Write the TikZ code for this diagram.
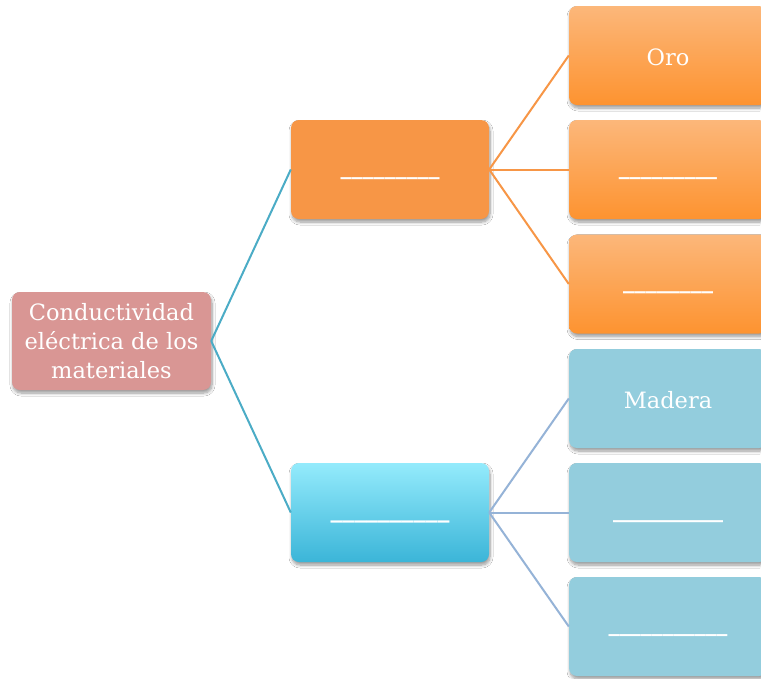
\documentclass[tikz,border=0pt]{standalone}
\usepackage{fontspec}
\setmainfont{DejaVu Serif}
\usetikzlibrary{shadows.blur}
\definecolor{rootc}{HTML}{D99694}
\definecolor{orgmid}{HTML}{F79646}
\definecolor{orgtop}{HTML}{FCB77A}
\definecolor{orgbot}{HTML}{FD9330}
\definecolor{blutop}{HTML}{94EBFC}
\definecolor{blubot}{HTML}{3BB5D8}
\definecolor{bluright}{HTML}{93CDDD}
\definecolor{lineroot}{HTML}{4BACC6}
\definecolor{lineblue}{HTML}{95B3D7}
\tikzset{
  box/.style={rectangle, rounded corners=8pt, minimum width=198pt, minimum height=99pt,
    inner sep=0pt, text=white, font=\fontsize{22.5}{29}\selectfont,
    blur shadow={shadow xshift=1pt, shadow yshift=-3pt, shadow blur steps=8, shadow blur radius=3pt, shadow opacity=40}},
  word/.style={text height=19pt, text depth=0pt},
  blank/.style={text height=9pt, text depth=0pt, font=\fontsize{22.5}{29}\selectfont\bfseries},
  orangeright/.style={box, top color=orgtop, bottom color=orgbot},
  blueright/.style={box, fill=bluright},
  conn/.style={line width=2pt},
}
\begin{document}
\begin{tikzpicture}[x=1pt, y=-1pt]
\clip (0,0) rectangle (761,678);
\fill[white] (0,0) rectangle (761,678);
\node[box, fill=rootc, minimum width=199pt, minimum height=98pt, align=center] (root) at (111.5,341) {Conductividad\\eléctrica de los\\materiales};
\node[box, blank, fill=orgmid] (om) at (390,169.5) {\fontsize{22}{29}\selectfont\_\_\_\_\_\_\_\_\_};
\node[box, blank, top color=blutop, bottom color=blubot] (bm) at (390,512.5) {\fontsize{23.8}{29}\selectfont\_\_\_\_\_\_\_\_\_\_};
\node[orangeright, word] (o1) at (668,55.5) {Oro};
\node[orangeright, blank] (o2) at (668,169.5) {\fontsize{21.8}{29}\selectfont\_\_\_\_\_\_\_\_\_};
\node[orangeright, blank] (o3) at (668,284) {\fontsize{22.5}{29}\selectfont\_\_\_\_\_\_\_\_};
\node[blueright, word] (b1) at (668,398.5) {Madera};
\node[blueright, blank] (b2) at (668,512.5) {\fontsize{22}{29}\selectfont\_\_\_\_\_\_\_\_\_\_};
\node[blueright, blank] (b3) at (668,626.5) {\fontsize{21.6}{29}\selectfont\_\_\_\_\_\_\_\_\_\_\_};
\draw[conn, lineroot] (root.east) -- (om.west);
\draw[conn, lineroot] (root.east) -- (bm.west);
\draw[conn, orgmid] (om.east) -- (o1.west);
\draw[conn, orgmid] (om.east) -- (o2.west);
\draw[conn, orgmid] (om.east) -- (o3.west);
\draw[conn, lineblue] (bm.east) -- (b1.west);
\draw[conn, lineblue] (bm.east) -- (b2.west);
\draw[conn, lineblue] (bm.east) -- (b3.west);
\end{tikzpicture}
\end{document}
